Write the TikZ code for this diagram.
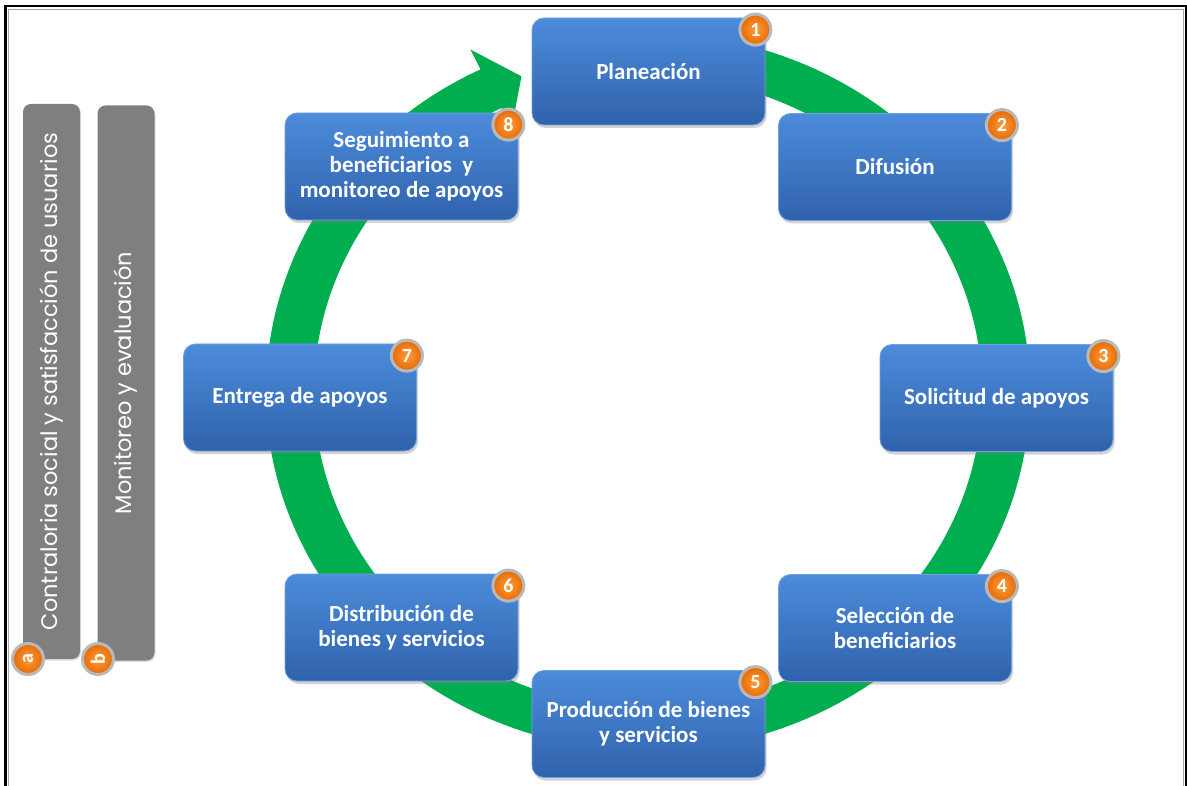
\documentclass[tikz,border=0pt]{standalone}
\usepackage{fontspec}
\setmainfont{Carlito}
\newfontfamily\barfont{Poppins}
\usetikzlibrary{shadows,calc}
\definecolor{ringgreen}{HTML}{00AD4F}
\definecolor{boxtop}{HTML}{4C8CDB}
\definecolor{boxbot}{HTML}{3062AC}
\definecolor{boxedge}{HTML}{6FA2E3}
\definecolor{badgein}{HTML}{FF9C3A}
\definecolor{badgeout}{HTML}{E56A05}
\definecolor{bargray}{HTML}{7F7F7F}
\tikzset{
  stepbox/.style={rounded corners=12pt, top color=boxtop, bottom color=boxbot,
    draw=boxedge, line width=0.8pt, minimum width=233pt, minimum height=107pt,
    inner sep=2pt, text=white, align=center,
    font=\fontsize{23}{25}\selectfont\bfseries,
    drop shadow={shadow xshift=1.5pt, shadow yshift=-3pt, opacity=0.35}},
  badge/.style={circle, minimum size=31pt, inner sep=0pt,
    inner color=badgein, outer color=badgeout, draw=gray!55, line width=3pt,
    text=white, font=\fontsize{20}{20}\selectfont\bfseries},
  sidebar/.style={rounded corners=8pt, fill=bargray, rotate=90,
    minimum width=555pt, minimum height=57pt, inner sep=0pt, text=white,
    font=\barfont\fontsize{22.5}{24}\selectfont,
    drop shadow={shadow xshift=1pt, shadow yshift=-1.5pt, opacity=0.25}}
}
\begin{document}
\begin{tikzpicture}[x=1pt,y=-1pt]
\useasboundingbox (0,0) rectangle (1187,786);
% frame
\draw[gray!70, line width=1pt] (8.5,786) -- (8.5,9.5) -- (1183,9.5) -- (1183,786);
\draw[black, line width=2.5pt] (5.5,786) -- (5.5,6) -- (1186,6) -- (1186,786);
% green cycle arrow
\begin{scope}[shift={(648,392)}, yscale=-1]
\fill[ringgreen] (80:382 and 359)
  arc[start angle=80, end angle=-244, x radius=382, y radius=359]
  -- (-244:405 and 381) -- (-249.3:358 and 337.5) -- (-244:311 and 294)
  -- (-244:334 and 316)
  arc[start angle=-244, end angle=80, x radius=334, y radius=316] -- cycle;
\end{scope}
% side bars
\node[sidebar] (barA) at (51.5,381.5) {Contraloria social y satisfacción de usuarios};
\node[sidebar] (barB) at (126,383) {Monitoreo y evaluación};
\node[badge, rotate=90] (bA) at (28,659) {a};
\node[badge, rotate=90] (bB) at (98,659) {b};
% steps
\node[stepbox] (n1) at (648.5,71.5) {Planeación};
\node[stepbox] (n2) at (895,167) {Difusión};
\node[stepbox] (n3) at (996.5,398) {Solicitud de apoyos};
\node[stepbox] (n4) at (895,628) {Selección de\\beneficiarios};
\node[stepbox] (n5) at (648.5,724) {Producción de bienes\\y servicios};
\node[stepbox] (n6) at (401.5,627.5) {Distribución de\\bienes y servicios};
\node[stepbox] (n7) at (300,397.5) {Entrega de apoyos};
\node[stepbox] (n8) at (401.5,166.5) {Seguimiento a\\beneficiarios\ \ y\\monitoreo de apoyos};
% number badges
\foreach \i in {1,...,8}{
  \node[badge] (b\i) at ($(n\i.north east)+(-10,12)$) {\i};
}
\end{tikzpicture}
\end{document}
